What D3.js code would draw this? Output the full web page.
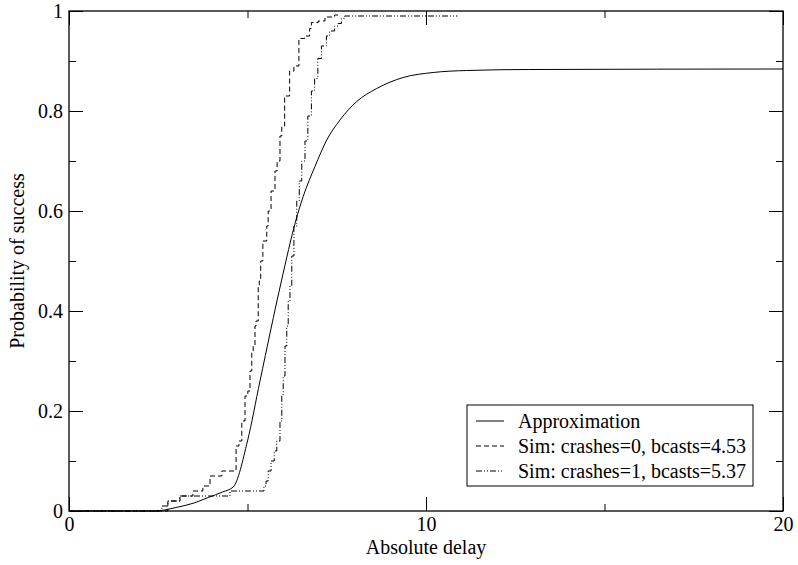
<!DOCTYPE html>
<html>
<head>
<meta charset="utf-8">
<script src="https://cdn.jsdelivr.net/npm/d3@7"></script>
<style>
  body { margin: 0; background: #fff; }
  svg text { font-family: "Liberation Serif", "Times New Roman", Times, "DejaVu Serif", serif !important; fill: #000; }
</style>
</head>
<body>
<div id="chart"></div>
<script>
const width = 798;
const height = 565;

// approximation curve: [delay, probability]
const approx = [
  [0, 0], [2.4, 0], [3.0, 0.007], [3.5, 0.016], [3.9, 0.027], [4.3, 0.038], [4.6, 0.048],
  [5.0, 0.14], [5.35, 0.26], [5.95, 0.46], [6.35, 0.58], [6.56, 0.629], [6.89, 0.689],
  [7.22, 0.742], [7.59, 0.782], [8.06, 0.819], [8.62, 0.845], [9.36, 0.867], [10.2, 0.877],
  [11.14, 0.881], [12.9, 0.883], [20, 0.884]
];

// simulation, crashes=0 (step points: value jumps to p at delay x)
const sim0 = [
  [0, 0], [2.77, 0.02], [3.11, 0.03], [3.47, 0.04], [3.75, 0.05], [3.95, 0.07], [4.28, 0.08],
  [4.68, 0.13], [4.76, 0.14], [4.84, 0.18], [4.93, 0.23], [5.01, 0.24], [5.07, 0.28],
  [5.12, 0.32], [5.16, 0.33], [5.21, 0.37], [5.24, 0.38], [5.30, 0.45], [5.33, 0.46],
  [5.37, 0.50], [5.43, 0.54], [5.54, 0.57], [5.58, 0.60], [5.66, 0.64], [5.77, 0.68],
  [5.83, 0.70], [5.91, 0.75], [5.96, 0.77], [6.04, 0.83], [6.18, 0.88], [6.30, 0.89],
  [6.44, 0.945], [6.60, 0.95], [6.74, 0.965], [6.79, 0.977], [6.98, 0.98], [7.17, 0.988],
  [7.44, 0.992], [7.58, 0.992]
];

// simulation, crashes=1
const sim1 = [
  [0, 0], [2.6, 0.01], [2.77, 0.02], [3.1, 0.03], [4.51, 0.04], [5.46, 0.05], [5.52, 0.06],
  [5.58, 0.08], [5.66, 0.10], [5.75, 0.12], [5.82, 0.14], [5.91, 0.18], [5.96, 0.23],
  [6.0, 0.27], [6.05, 0.33], [6.10, 0.37], [6.14, 0.42], [6.19, 0.45], [6.24, 0.51],
  [6.30, 0.57], [6.38, 0.62], [6.45, 0.66], [6.52, 0.70], [6.61, 0.74], [6.69, 0.79],
  [6.79, 0.84], [6.88, 0.865], [6.97, 0.905], [7.07, 0.93], [7.21, 0.95], [7.30, 0.96],
  [7.44, 0.97], [7.54, 0.975], [7.63, 0.985], [7.72, 0.99], [10.88, 0.99]
];

const xMajor = [0, 10, 20];
const xMinor = [5, 15];
const yMajor = [0, 0.2, 0.4, 0.6, 0.8, 1];
const yMinor = [0.1, 0.3, 0.5, 0.7, 0.9];

const seriesNames = [
  "Approximation",
  "Sim: crashes=0, bcasts=4.53",
  "Sim: crashes=1, bcasts=5.37"
];

const margin = { left: 69, right: 15, top: 11, bottom: 54 };

const x = d3.scaleLinear().domain([0, 20]).range([margin.left, width - margin.right]);
const y = d3.scaleLinear().domain([0, 1]).range([height - margin.bottom, margin.top]);

const svg = d3.select("#chart").append("svg")
  .attr("width", width)
  .attr("height", height);

const fontSize = 20;
const serif = '"Liberation Serif", "Times New Roman", Times, "DejaVu Serif", serif';
const major = 14, minor = 7;

// axes, ticks point inward
const fmt = d => d === 0 || d === 1 || d === 10 || d === 20 ? String(d) : d3.format(".1f")(d);

const addAxis = (axis, transform, labels) => {
  const g = svg.append("g").attr("transform", transform).call(axis)
    .attr("font-family", serif).attr("font-size", fontSize);
  g.select(".domain").remove();
  g.selectAll("line").attr("stroke", "#000").attr("stroke-width", 1);
  if (!labels) g.selectAll("text").remove();
  return g;
};

const bottomY = y(0), topY = y(1), leftX = x(0), rightX = x(20);

addAxis(d3.axisBottom(x).tickValues(xMajor).tickSize(-major).tickPadding(6).tickFormat(fmt), `translate(0,${bottomY})`, true);
addAxis(d3.axisBottom(x).tickValues(xMinor).tickSize(-minor), `translate(0,${bottomY})`, false);
addAxis(d3.axisTop(x).tickValues(xMajor).tickSize(-major), `translate(0,${topY})`, false);
addAxis(d3.axisTop(x).tickValues(xMinor).tickSize(-minor), `translate(0,${topY})`, false);

addAxis(d3.axisLeft(y).tickValues(yMajor).tickSize(-major).tickPadding(6).tickFormat(fmt), `translate(${leftX},0)`, true);
addAxis(d3.axisLeft(y).tickValues(yMinor).tickSize(-minor), `translate(${leftX},0)`, false);
addAxis(d3.axisRight(y).tickValues(yMajor).tickSize(-major), `translate(${rightX},0)`, false);
addAxis(d3.axisRight(y).tickValues(yMinor).tickSize(-minor), `translate(${rightX},0)`, false);

// frame
svg.append("rect")
  .attr("x", leftX).attr("y", topY)
  .attr("width", rightX - leftX).attr("height", bottomY - topY)
  .attr("fill", "none").attr("stroke", "#000").attr("stroke-width", 1.3);

// axis titles
svg.append("text")
  .attr("x", (leftX + rightX) / 2).attr("y", 554)
  .attr("text-anchor", "middle")
  .attr("font-family", serif).attr("font-size", fontSize)
  .text("Absolute delay");

svg.append("text")
  .attr("transform", `translate(24,${(topY + bottomY) / 2}) rotate(-90)`)
  .attr("text-anchor", "middle")
  .attr("font-family", serif).attr("font-size", fontSize)
  .text("Probability of success");

// lines
const smooth = d3.line().x(d => x(d[0])).y(d => y(d[1])).curve(d3.curveMonotoneX);
const steps = d3.line().x(d => x(d[0])).y(d => y(d[1])).curve(d3.curveStepAfter);

const dashes = [null, "5,3", "6,2,1,2,1,2"];

const plot = svg.append("g").attr("fill", "none").attr("stroke", "#000").attr("stroke-width", 1);
plot.append("path").attr("d", smooth(approx));
plot.append("path").attr("d", steps(sim0)).attr("stroke-dasharray", dashes[1]);
plot.append("path").attr("d", steps(sim1)).attr("stroke-dasharray", dashes[2]);

// legend
const legend = svg.append("g");
legend.append("rect")
  .attr("x", 467).attr("y", 405).attr("width", 286).attr("height", 81)
  .attr("fill", "#fff").attr("stroke", "#000").attr("stroke-width", 1);

seriesNames.forEach((name, i) => {
  const ly = 421 + i * 25;
  legend.append("line")
    .attr("x1", 476).attr("x2", 504).attr("y1", ly).attr("y2", ly)
    .attr("stroke", "#000").attr("stroke-width", 1)
    .attr("stroke-dasharray", dashes[i]);
  legend.append("text")
    .attr("x", 518).attr("y", ly).attr("dy", "0.35em")
    .attr("font-family", serif).attr("font-size", fontSize)
    .text(name);
});
</script>
</body>
</html>
